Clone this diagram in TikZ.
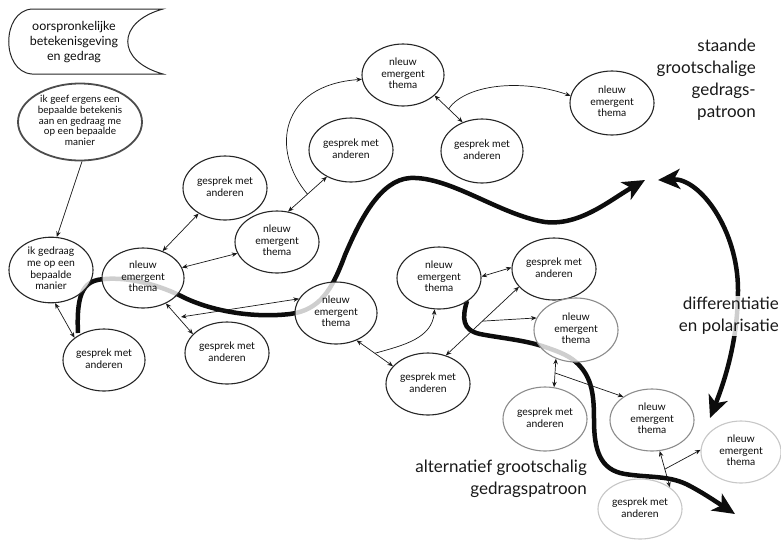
\documentclass[tikz,border=0pt]{standalone}
\usepackage{fontspec}
\setmainfont{Lato}
\usetikzlibrary{shapes.geometric,arrows.meta,calc}
\newcommand\lbl[1]{\makebox[0pt]{\begin{tabular}{@{}c@{}}#1\end{tabular}}}
\begin{document}
\begin{tikzpicture}[x=1pt,y=-1pt,
  ell/.style={ellipse, draw=black!85, line width=1.1pt, fill=white, fill opacity=0.8, text opacity=1,
    inner sep=0pt, minimum width=84pt, minimum height=62pt, text=black!95,
    font=\fontsize{10.4}{11.6}\selectfont},
  greyell/.style={ell, draw=black!45},
  paleell/.style={ell, draw=black!22},
  thickline/.style={line width=4.5pt, draw=black!95},
  bigtip/.tip={Stealth[length=22pt,width=20pt,inset=6pt]},
  thinline/.style={line width=0.7pt, draw=black!90},
  smalltip/.tip={Stealth[length=5.5pt,width=4.5pt]},
  bigtext/.style={font=\fontsize{17}{22}\selectfont, align=right, inner sep=1pt, text=black!90}
]
\useasboundingbox (0,0) rectangle (781,539);

% header shape
\draw[line width=1pt, draw=black!85] (32,9) -- (163,9) .. controls (116,22) and (116,61) .. (163,74)
   -- (32,74) .. controls (1,72) and (1,11) .. (32,9);
\node[font=\fontsize{12.5}{15}\selectfont, align=center, text=black!95] (hdr) at (74,42)
   {oorspronkelijke\\betekenisgeving\\en gedrag};

% thick curves
\draw[thickline, -bigtip] (78,333) .. controls (76,290) and (85,280) .. (105,279)
   .. controls (130,277) and (160,285) .. (185,298)
   .. controls (215,312) and (255,318) .. (290,314)
   .. controls (320,310) and (332,290) .. (345,255)
   .. controls (360,220) and (380,180) .. (410,178)
   .. controls (450,176) and (500,215) .. (545,222)
   .. controls (580,226) and (610,200) .. (645,180);
\draw[thickline, -bigtip] (467,301) .. controls (462,318) and (462,330) .. (480,334)
   .. controls (500,338) and (525,340) .. (545,347)
   .. controls (560,352) and (570,356) .. (578,364)
   .. controls (592,378) and (594,395) .. (594,420)
   .. controls (594,450) and (600,470) .. (625,474)
   .. controls (650,478) and (670,475) .. (690,486)
   .. controls (705,494) and (718,503) .. (735,514);
\draw[thickline, bigtip-bigtip] (658,180) .. controls (700,178) and (738,230) .. (738,290)
   .. controls (738,340) and (725,380) .. (710,418);

% texts
\node[bigtext, anchor=east] (sg) at (757,80) {staande\\grootschalige\\gedrags-\\patroon};
\node[bigtext, anchor=east, fill=white, fill opacity=0.8, text opacity=1] (dp) at (780,316) {differentiatie\\en polarisatie};
\node[bigtext, anchor=east] (ag) at (588,479) {alternatief grootschalig\\gedragspatroon};

% nodes
\node[ell, minimum width=124pt, minimum height=77pt, line width=1.8pt, draw=black!70,
      font=\fontsize{10}{10.6}\selectfont] (A) at (80,122)
   {\lbl{ik geef ergens een\\bepaalde betekenis\\aan en gedraag me\\op een bepaalde\\manier}};
\node[ell, minimum width=84pt, minimum height=64pt] (B) at (51,270) {\lbl{ik gedraag\\me op een\\bepaalde\\manier}};
\node[ell, minimum width=82pt] (C) at (104,360) {\lbl{gesprek met\\anderen}};
\node[ell, minimum width=82pt, minimum height=60pt] (D) at (143,278) {\lbl{nleuw\\emergent\\thema}};
\node[ell, minimum height=64pt] (E) at (225,188) {\lbl{gesprek met\\anderen}};
\node[ell] (F) at (277,242) {\lbl{nleuw\\emergent\\thema}};
\node[ell] (G) at (227,353) {\lbl{gesprek met\\anderen}};
\node[ell, minimum width=82pt] (H) at (336,313) {\lbl{nleuw\\emergent\\thema}};
\node[ell, minimum width=82pt] (I) at (403,75) {\lbl{nleuw\\emergent\\thema}};
\node[ell, minimum height=64pt] (J) at (351,150) {\lbl{gesprek met\\anderen}};
\node[ell, minimum width=82pt, minimum height=64pt] (K) at (482,151) {\lbl{gesprek met\\anderen}};
\node[ell, minimum height=64pt] (L) at (612,103) {\lbl{nleuw\\emergent\\thema}};
\node[ell] (M) at (439,278) {\lbl{nleuw\\emergent\\thema}};
\node[ell] (N) at (554,269) {\lbl{gesprek met\\anderen}};
\node[greyell, minimum height=64pt] (O) at (576,330) {\lbl{nleuw\\emergent\\thema}};
\node[ell] (P) at (428,384) {\lbl{gesprek met\\anderen}};
\node[greyell, minimum height=64pt] (Q) at (545,419) {\lbl{gesprek met\\anderen}};
\node[greyell] (R) at (652,420) {\lbl{nleuw\\emergent\\thema}};
\node[paleell, minimum width=80pt] (S) at (741,452) {\lbl{nleuw\\emergent\\thema}};
\node[paleell, minimum height=60pt] (T) at (640,509) {\lbl{gesprek met\\anderen}};

% thin connectors
\draw[thinline, -smalltip] (A.-87) -- (B.80);
\draw[thinline, smalltip-smalltip] (B.-83) -- (C.143);
\draw[thinline, smalltip-smalltip] (D.54) -- (E.-136);
\draw[thinline, smalltip-smalltip] (D.15) -- (F.-164);
\coordinate (dh) at (181,317);
\draw[thinline, smalltip-smalltip] (dh) -- (H.159);
\draw[thinline, smalltip-smalltip] (D.-48) -- (G.151);
\draw[thinline, smalltip-smalltip] (F.70) -- (J.-132);
\coordinate (fj) at ($(F.70)!0.5!(J.-132)$);
\draw[thinline, -smalltip] (fj) .. controls (270,150) and (280,85) .. (I.186);
\draw[thinline, smalltip-smalltip] (I.-33) -- (K.124);
\coordinate (ik) at ($(I.-33)!0.5!(K.124)$);
\draw[thinline, -smalltip] (ik) .. controls (465,85) and (520,78) .. (L.170);
\draw[thinline, smalltip-smalltip] (H.-53) -- (P.153);
\coordinate (hp) at ($(H.-53)!0.5!(P.153)$);
\draw[thinline, -smalltip] (hp) .. controls (405,345) and (432,338) .. (M.-98);
\draw[thinline, smalltip-smalltip] (M.2) -- (N.178);
\draw[thinline, smalltip-smalltip] (P.58) -- (N.-153);
\coordinate (pn) at ($(P.58)!0.5!(N.-153)$);
\draw[thinline, -smalltip] (pn) -- (O.163);
\draw[thinline, smalltip-smalltip] (O.-125) -- (Q.74);
\coordinate (oq) at ($(O.-125)!0.5!(Q.74)$);
\draw[thinline, -smalltip] (oq) -- (R.141);
\draw[thinline, smalltip-smalltip] (R.-76) -- (T.36);
\coordinate (rt) at ($(R.-76)!0.5!(T.36)$);
\draw[thinline, -smalltip] (rt) -- (S.177);
\end{tikzpicture}
\end{document}
